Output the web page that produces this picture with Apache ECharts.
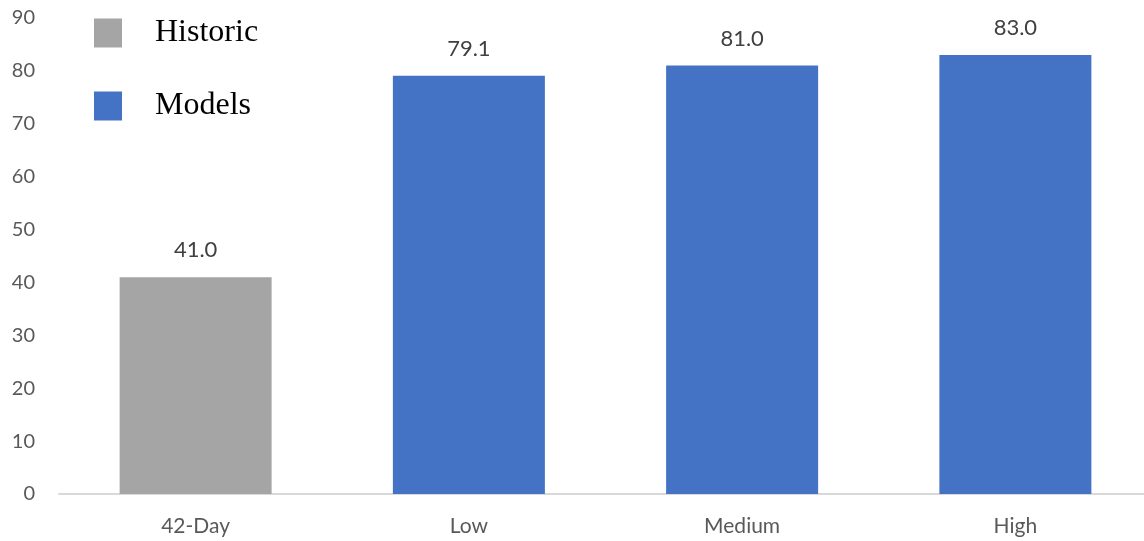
<!DOCTYPE html>
<html>
<head>
<meta charset="utf-8">
<script src="https://cdn.jsdelivr.net/npm/echarts@6/dist/echarts.min.js"></script>
<style>
html,body{margin:0;padding:0;background:#fff;overflow:hidden;width:1144px;height:541px;}
#chart{width:1152px;height:541px;}
</style>
</head>
<body>
<div id="chart"></div>
<script>
const categories = ['42-Day', 'Low', 'Medium', 'High'];
const historicValues = [41.0, '-', '-', '-'];
const modelValues = ['-', 79.1, 81.0, 83.0];
const yTicks = [0, 10, 20, 30, 40, 50, 60, 70, 80, 90];

const chart = echarts.init(document.getElementById('chart'));
const labelStyle = {
  show: true,
  position: 'top',
  distance: 16,
  fontFamily: 'Lato',
  fontSize: 22,
  color: '#404040',
  formatter: p => Number(p.value).toFixed(1)
};
chart.setOption({
  animation: false,
  backgroundColor: '#ffffff',
  grid: { left: 59, top: 18, right: 0, height: 476, containLabel: false },
  legend: {
    orient: 'vertical',
    left: 94,
    top: 17,
    padding: 0,
    itemWidth: 28,
    itemHeight: 29,
    itemGap: 41,
    icon: 'rect',
    textStyle: {
      fontFamily: 'Liberation Serif',
      fontSize: 32,
      color: '#000000',
      padding: [0, 0, 0, 28]
    },
    data: ['Historic', 'Models']
  },
  xAxis: {
    type: 'category',
    data: categories,
    axisLine: { lineStyle: { color: '#d9d9d9', width: 2 } },
    axisTick: { show: false },
    axisLabel: { fontFamily: 'Lato', fontSize: 21, color: '#595959', margin: 22 }
  },
  yAxis: {
    type: 'value',
    min: yTicks[0],
    max: yTicks[yTicks.length - 1],
    interval: 10,
    axisLine: { show: false },
    axisTick: { show: false },
    splitLine: { show: false },
    axisLabel: { fontFamily: 'Lato', fontSize: 20, color: '#595959', margin: 24 }
  },
  series: [
    {
      name: 'Historic',
      type: 'bar',
      data: historicValues,
      barWidth: 152,
      barGap: '-100%',
      itemStyle: { color: '#a5a5a5' },
      label: labelStyle
    },
    {
      name: 'Models',
      type: 'bar',
      data: modelValues,
      barWidth: 152,
      itemStyle: { color: '#4472c4' },
      label: labelStyle
    }
  ]
});
</script>
</body>
</html>
